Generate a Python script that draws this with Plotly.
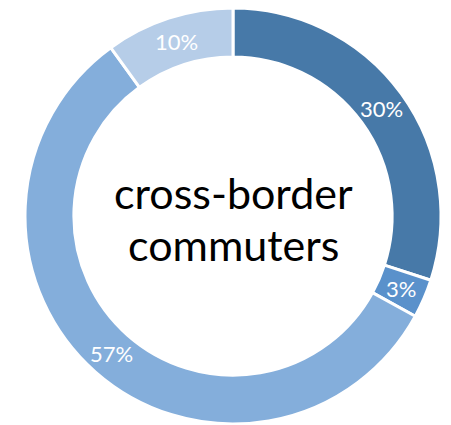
import math
import plotly.graph_objects as go

# Share of each group (percent)
labels = ["A", "B", "C", "D"]
values = [30, 3, 57, 10]
colors = ["#4779A8", "#5A91CB", "#84AEDB", "#B6CDE8"]
center_lines = ["cross-border", "commuters"]

W, H = 451, 425
cx, cy, r = 233, 216, 208
hole = 0.765
font = "Lato, Open Sans, sans-serif"

fig = go.Figure(go.Pie(
    labels=labels,
    values=values,
    sort=False,
    direction="clockwise",
    rotation=0,
    hole=hole,
    marker=dict(colors=colors, line=dict(color="white", width=3)),
    textinfo="none",
    hoverinfo="skip",
    showlegend=False,
    domain=dict(x=[(cx - r) / W, (cx + r) / W], y=[(H - cy - r) / H, (H - cy + r) / H]),
))

# Percentage labels placed at the middle of each ring segment
total = sum(values)
mid_r = r * (1 + hole) / 2
cum = 0
for v in values:
    ang = 2 * math.pi * (cum + v / 2) / total
    cum += v
    px = cx + mid_r * math.sin(ang)
    py = cy - mid_r * math.cos(ang)
    fig.add_annotation(
        x=px / W, y=(H - py) / H, xref="paper", yref="paper",
        text=f"{v}%", showarrow=False,
        font=dict(size=22, color="white", family=font),
        xanchor="center", yanchor="middle",
    )

# Centre caption, one annotation per line
for i, line in enumerate(center_lines):
    fig.add_annotation(
        x=cx / W, y=(H - (192 + 53 * i)) / H, xref="paper", yref="paper",
        text=line, showarrow=False,
        font=dict(size=43, color="black", family=font),
        xanchor="center", yanchor="middle",
    )

fig.update_layout(
    width=W, height=H,
    margin=dict(l=0, r=0, t=0, b=0),
    paper_bgcolor="white", plot_bgcolor="white",
)

fig.write_html("out.html")
